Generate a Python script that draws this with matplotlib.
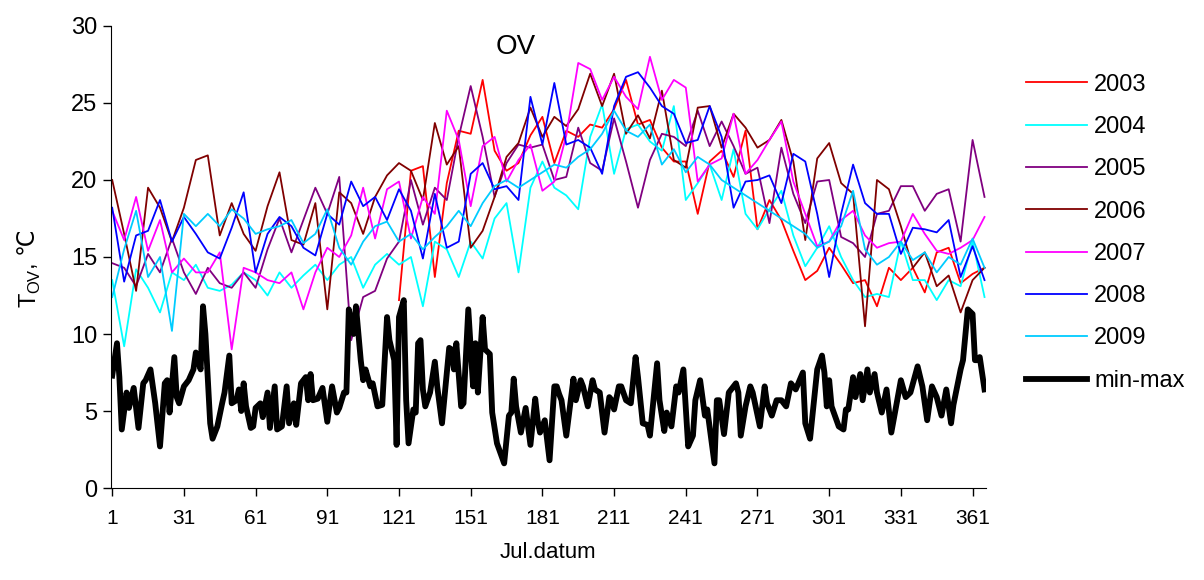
import numpy as np
import matplotlib
matplotlib.use("Agg")
import matplotlib.pyplot as plt
from matplotlib.transforms import IdentityTransform

plt.rcParams['font.family'] = ['Liberation Sans', 'DejaVu Sans']

nan = np.nan

# julian day sample points for the yearly series
days = [1, 6, 11, 16, 21, 26, 31, 36, 41, 46, 51, 56, 61, 66, 71, 76, 81, 86, 91, 96,
        101, 106, 111, 116, 121, 126, 131, 136, 141, 146, 151, 156, 161, 166, 171, 176,
        181, 186, 191, 196, 201, 206, 211, 216, 221, 226, 231, 236, 241, 246, 251, 256,
        261, 266, 271, 276, 281, 286, 291, 296, 301, 306, 311, 316, 321, 326, 331, 336,
        341, 346, 351, 356, 361, 366]

t2003 = [nan, nan, nan, nan, nan, nan, nan, nan, nan, nan, nan, nan, nan, nan, nan, nan,
         nan, nan, nan, nan, nan, nan, nan, nan, 12.2, 20.6, 20.9, 13.7, 19.8, 23.2, 23.0,
         26.5, 21.9, 20.6, 21.1, 22.9, 24.1, 21.1, 23.2, 22.8, 23.6, 23.4, 24.6, 26.5, 23.6,
         23.9, 22.1, 21.2, 21.2, 17.8, 21.2, 21.9, 20.2, 23.2, 16.8, 18.7, 17.4, 15.4, 13.5,
         14.1, 15.6, 14.5, 13.3, 13.5, 11.8, 14.3, 13.5, 14.3, 12.7, 15.3, 15.6, 13.3, 13.9,
         14.3]
t2004 = [13.5, 9.2, 14.2, 13.0, 11.4, 14.0, 13.5, 14.5, 13.0, 12.8, 13.2, 14.0, 13.5, 12.5,
         14.0, 13.0, 13.8, 14.5, 13.5, 14.5, 15.0, 13.0, 14.5, 15.2, 14.5, 15.0, 11.8, 16.0,
         15.5, 13.7, 16.0, 14.9, 17.5, 18.5, 14.0, 19.5, 21.2, 19.5, 19.0, 18.1, 22.8, 24.9,
         20.4, 23.3, 23.6, 22.5, 21.9, 24.8, 18.7, 19.8, 21.0, 18.7, 22.0, 17.8, 16.8, 18.1,
         19.3, 16.4, 14.4, 15.6, 17.0, 15.0, 13.5, 12.4, 12.6, 12.4, 16.0, 13.5, 13.5, 12.2,
         13.5, 13.1, 16.0, 12.4]
t2005 = [14.6, 14.3, 13.1, 15.2, 14.0, 16.2, 14.0, 12.6, 14.3, 13.3, 13.0, 14.0, 13.0, 15.5,
         17.5, 15.3, 17.4, 19.5, 17.8, 20.2, 9.6, 12.4, 12.8, 14.9, 16.0, 20.0, 17.1, 19.5,
         18.7, 22.8, 26.1, 22.8, 18.9, 21.1, 22.3, 22.1, 22.3, 20.0, 20.2, 23.4, 21.1, 20.6,
         24.0, 21.2, 18.2, 21.3, 23.0, 22.8, 22.2, 24.5, 22.2, 23.8, 22.2, 20.4, 20.8, 17.2,
         22.1, 19.1, 17.2, 19.9, 20.0, 16.3, 15.9, 15.0, 17.8, 18.0, 19.6, 19.6, 18.0, 19.1,
         19.4, 16.0, 22.6, 18.9]
t2006 = [20.0, 16.5, 12.8, 19.5, 18.2, 16.0, 18.2, 21.3, 21.6, 16.4, 18.5, 16.5, 15.4, 18.3,
         20.5, 16.1, 15.8, 18.5, 11.6, 19.2, 18.5, 16.5, 18.9, 20.3, 21.1, 20.6, 18.7, 23.7,
         21.0, 22.2, 15.6, 16.7, 18.9, 21.5, 22.4, 24.7, 22.8, 24.1, 23.5, 24.6, 26.9, 24.8,
         26.9, 23.0, 24.2, 22.7, 25.8, 21.3, 20.8, 24.7, 24.8, 22.1, 24.3, 23.4, 22.1, 22.6,
         23.9, 21.2, 16.1, 21.4, 22.4, 19.8, 19.1, 10.5, 20.0, 19.4, 17.0, 14.3, 15.3, 13.1,
         13.8, 11.4, 13.5, 14.3]
t2007 = [18.0, 16.1, 18.9, 15.4, 17.4, 14.0, 14.9, 14.0, 14.0, 15.3, 9.0, 14.3, 14.0, 13.5,
         13.3, 14.0, 11.6, 14.0, 15.6, 15.0, 16.4, 19.5, 16.2, 19.4, 19.9, 16.2, 18.9, 17.8,
         24.5, 22.6, 18.3, 22.2, 22.8, 19.9, 21.3, 22.3, 19.3, 19.9, 22.9, 27.6, 27.2, 25.2,
         26.7, 25.4, 24.6, 28.0, 25.2, 26.5, 26.0, 19.9, 21.0, 21.4, 24.3, 20.4, 21.3, 22.6,
         23.8, 19.9, 17.8, 15.7, 16.0, 17.4, 18.0, 16.4, 15.6, 15.9, 16.0, 17.8, 16.5, 15.4,
         15.2, 15.6, 16.1, 17.6]
t2008 = [18.2, 13.4, 16.4, 16.7, 18.7, 16.0, 17.6, 16.5, 15.3, 14.9, 16.9, 19.2, 14.0, 16.5,
         17.6, 17.0, 15.6, 15.1, 17.8, 17.1, 19.9, 18.3, 18.9, 17.4, 19.4, 18.0, 14.9, 19.1,
         15.6, 16.0, 20.4, 21.1, 19.4, 19.6, 18.7, 25.4, 22.3, 26.3, 22.3, 22.6, 22.1, 20.4,
         24.8, 26.7, 27.0, 26.0, 24.8, 24.3, 22.4, 22.6, 24.8, 22.8, 18.2, 19.9, 20.0, 20.3,
         18.5, 21.7, 21.2, 17.8, 13.7, 17.8, 21.0, 18.5, 17.8, 17.8, 15.2, 16.9, 16.8, 16.6,
         17.4, 13.7, 15.7, 13.5]
t2009 = [12.4, 15.5, 18.0, 13.7, 15.0, 10.2, 17.8, 17.0, 17.8, 17.0, 18.1, 17.5, 16.5, 16.8,
         17.0, 17.4, 15.9, 16.5, 18.1, 15.6, 14.5, 16.0, 17.0, 17.3, 16.0, 16.5, 15.5, 16.3,
         17.0, 18.0, 17.0, 18.5, 19.6, 20.0, 19.5, 20.0, 20.5, 21.0, 20.8, 21.5, 22.0, 23.0,
         24.5, 23.2, 22.8, 23.6, 21.0, 22.0, 20.5, 21.5, 21.0, 20.0, 19.5, 19.0, 18.5, 18.0,
         17.5, 17.0, 16.5, 15.6, 16.0, 17.0, 19.3, 15.5, 14.5, 15.0, 16.0, 14.8, 15.3, 14.0,
         15.0, 14.5, 16.2, 14.3]

# min-max spread, read point by point
days_mm = [1, 3, 4, 5, 7, 8, 10, 12, 14, 15, 17, 19, 21, 23, 24, 25, 27, 28, 29, 31, 33, 35,
           36, 38, 39, 40, 42, 43, 45, 47, 48, 50, 51, 53, 54, 55, 56, 57, 59, 60, 61, 63,
           64, 66, 67, 69, 70, 72, 74, 75, 77, 78, 80, 82, 83, 84, 85, 87, 89, 91, 93, 95,
           96, 98, 99, 100, 102, 103, 105, 106, 107, 109, 110, 112, 114, 116, 117, 119, 120,
           121, 123, 124, 125, 127, 128, 129, 130, 131, 132, 134, 136, 137, 139, 142, 143,
           144, 145, 147, 148, 150, 152, 153, 154, 156, 157, 159, 160, 162, 165, 167, 168,
           169, 170, 172, 174, 176, 178, 179, 180, 182, 184, 186, 187, 188, 189, 191, 194,
           195, 197, 198, 200, 202, 203, 205, 207, 209, 210, 211, 213, 214, 216, 218, 220,
           221, 223, 225, 226, 229, 230, 232, 233, 235, 237, 238, 240, 242, 244, 245, 247,
           249, 250, 253, 254, 255, 257, 259, 262, 263, 264, 266, 268, 269, 272, 274, 275,
           277, 279, 281, 283, 285, 287, 290, 291, 293, 296, 298, 299, 300, 301, 302, 305,
           307, 308, 309, 311, 312, 314, 315, 317, 318, 320, 321, 323, 325, 327, 329, 331,
           333, 335, 338, 340, 342, 344, 346, 348, 350, 352, 353, 356, 357, 359, 361, 362,
           363, 364, 366]
minmax = [7.3, 9.4, 7.2, 3.8, 6.2, 5.2, 6.5, 3.9, 6.8, 7.0, 7.7, 5.5, 2.7, 6.8, 7.0, 4.9,
          8.5, 5.9, 5.5, 6.6, 7.0, 7.7, 8.8, 7.7, 11.8, 10.0, 4.2, 3.2, 4.0, 5.5, 6.2, 8.6,
          5.5, 5.7, 6.4, 5.0, 6.8, 5.3, 3.9, 4.0, 5.2, 5.5, 4.6, 6.2, 3.9, 6.6, 3.8, 4.0,
          6.6, 4.2, 5.5, 4.1, 6.8, 7.2, 5.7, 7.4, 5.7, 5.8, 6.5, 4.3, 6.6, 4.9, 5.2, 6.2,
          6.2, 11.6, 10.0, 11.8, 8.3, 7.0, 7.7, 6.6, 6.8, 5.3, 5.4, 11.1, 9.6, 8.3, 2.8,
          11.1, 12.2, 5.7, 2.9, 5.1, 4.9, 9.4, 9.6, 6.4, 5.3, 6.2, 8.2, 6.6, 4.2, 9.1, 9.0,
          7.7, 9.4, 5.3, 5.5, 11.6, 6.6, 9.4, 6.2, 11.1, 9.0, 8.7, 4.9, 2.9, 1.6, 4.7, 4.9,
          7.1, 5.3, 3.6, 5.2, 2.8, 5.8, 4.4, 3.6, 4.4, 1.8, 6.6, 6.6, 6.1, 5.7, 3.4, 7.1,
          5.7, 7.0, 6.6, 5.3, 7.0, 6.4, 6.2, 3.6, 5.9, 5.7, 5.1, 6.6, 6.6, 5.7, 5.5, 8.5,
          7.2, 4.2, 4.1, 3.4, 8.1, 5.7, 3.7, 4.9, 4.0, 6.6, 6.2, 7.7, 2.7, 3.4, 5.7, 7.0,
          4.7, 5.1, 1.6, 5.7, 5.7, 3.5, 6.2, 6.8, 6.2, 3.4, 5.3, 6.6, 6.2, 4.0, 6.6, 5.5,
          4.7, 5.7, 5.7, 5.3, 6.8, 6.4, 7.5, 4.2, 3.2, 7.7, 8.6, 7.5, 5.3, 7.0, 5.3, 4.0,
          3.8, 5.1, 5.1, 7.2, 5.9, 7.4, 5.7, 7.7, 6.2, 7.4, 6.2, 4.9, 6.4, 3.6, 5.3, 7.0,
          5.9, 6.2, 7.9, 6.6, 4.4, 6.6, 5.9, 4.7, 6.4, 4.2, 5.4, 7.7, 8.3, 11.6, 11.3, 8.3,
          8.3, 8.5, 6.4]

years = ['2003', '2004', '2005', '2006', '2007', '2008', '2009']
series = [t2003, t2004, t2005, t2006, t2007, t2008, t2009]
colors = ['#FF0000', '#00FFFF', '#800080', '#800000', '#FF00FF', '#0000FF', '#00CCFF']

fig = plt.figure(figsize=(12.04, 5.8), dpi=100)
ax = fig.add_axes([0.0922, 0.1586, 0.7267, 0.7966])

for name, vals, c in zip(years, series, colors):
    ax.plot(days, vals, color=c, lw=1.3, label=name)
ax.plot(days_mm, minmax, color='black', lw=4.2, label='min-max')

ax.set_xlim(0.5, 366.6)
ax.set_ylim(0, 30)
ax.set_yticks(range(0, 31, 5))
ax.set_xticks(range(1, 362, 30))
for s in ['top', 'right']:
    ax.spines[s].set_visible(False)
ax.tick_params(axis='y', direction='out', length=6, width=1, labelsize=17, pad=4)
ax.tick_params(axis='x', direction='out', length=6, width=1, labelsize=15, pad=9)

ax.set_xlabel('Jul.datum', fontsize=16, labelpad=10)
ax.text(0.462, 0.955, 'OV', transform=ax.transAxes, fontsize=20, ha='center', va='center')

fig.legend(loc='upper left', bbox_to_anchor=(0.852, 0.873), frameon=False, fontsize=17,
           handlelength=2.6, handletextpad=0.3, labelspacing=0.86, borderpad=0,
           borderaxespad=0)

# y label "T_OV, ℃" built from pieces, reading bottom to top
renderer = fig.canvas.get_renderer()
pieces = [('T', 17, 0), ('OV', 12, 4), (', ℃', 17, 0)]
xbase, total = 35, 0
texts = []
for s, size, shift in pieces:
    t = fig.text(xbase + shift, 0, s, fontsize=size, rotation=90, rotation_mode='anchor',
                 ha='left', va='baseline', transform=IdentityTransform())
    bb = t.get_window_extent(renderer)
    texts.append((t, bb.height))
    total += bb.height
y = 580 - 268 - total / 2
for t, h in texts:
    t.set_y(y)
    y += h

fig.savefig('out.png', dpi=100)
